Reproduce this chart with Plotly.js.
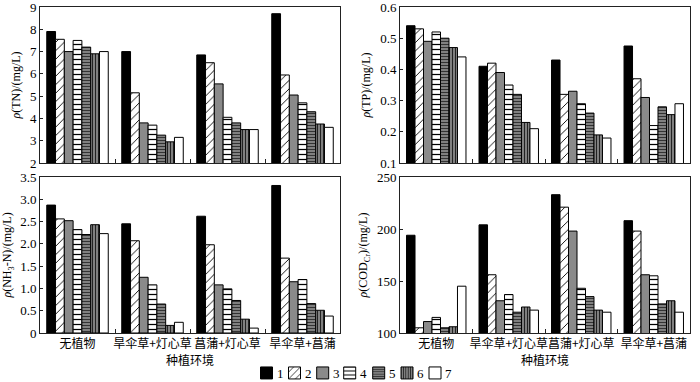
<!DOCTYPE html>
<html>
<head>
<meta charset="utf-8">
<script src="https://cdn.plot.ly/plotly-3.0.1.min.js"></script>
<style>html,body{margin:0;padding:0;background:#fff;}#chart{width:700px;height:382px;}</style>
</head>
<body>
<div id="chart"></div>
<script>
// ---- data ----
var categories = ["无植物", "旱伞草+灯心草", "菖蒲+灯心草", "旱伞草+菖蒲"];
var seriesNames = ["1", "2", "3", "4", "5", "6", "7"];

// TN (mg/L): one array per series, values per category
var tn1 = [7.9, 7.0, 6.85, 8.7];
var tn2 = [7.55, 5.15, 6.5, 5.95];
var tn3 = [7.0, 3.8, 5.55, 5.05];
var tn4 = [7.5, 3.7, 4.05, 4.7];
var tn5 = [7.2, 3.25, 3.8, 4.3];
var tn6 = [6.9, 2.95, 3.5, 3.75];
var tn7 = [7.0, 3.15, 3.5, 3.6];

// TP (mg/L)
var tp1 = [0.54, 0.41, 0.43, 0.475];
var tp2 = [0.53, 0.42, 0.32, 0.37];
var tp3 = [0.49, 0.39, 0.33, 0.31];
var tp4 = [0.52, 0.35, 0.29, 0.22];
var tp5 = [0.50, 0.32, 0.26, 0.28];
var tp6 = [0.47, 0.23, 0.19, 0.255];
var tp7 = [0.44, 0.21, 0.18, 0.29];

// NH3-N (mg/L)
var nh1 = [2.87, 2.45, 2.62, 3.31];
var nh2 = [2.56, 2.07, 1.98, 1.68];
var nh3 = [2.52, 1.25, 1.08, 1.15];
var nh4 = [2.32, 1.08, 0.99, 1.20];
var nh5 = [2.21, 0.65, 0.73, 0.66];
var nh6 = [2.43, 0.17, 0.31, 0.51];
var nh7 = [2.23, 0.24, 0.11, 0.38];

// COD_Cr (mg/L)
var cod1 = [194, 204, 233, 208];
var cod2 = [105, 156, 221, 198];
var cod3 = [111, 131, 198, 156];
var cod4 = [115, 137, 143, 155];
var cod5 = [105, 120, 135, 128];
var cod6 = [106, 125, 122, 131];
var cod7 = [145, 122, 120, 120];

// axis tick labels
var tnTicks = [2, 3, 4, 5, 6, 7, 8, 9];
var tpTicks = [0.1, 0.2, 0.3, 0.4, 0.5, 0.6];
var tpTickText = ["0.1", "0.2", "0.3", "0.4", "0.5", "0.6"];
var nhTicks = [0, 0.5, 1.0, 1.5, 2.0, 2.5, 3.0, 3.5];
var nhTickText = ["0", "0.5", "1.0", "1.5", "2.0", "2.5", "3.0", "3.5"];
var codTicks = [100, 150, 200, 250];

// ---- styles ----
var styles = [
  {color: "#000000", pattern: {shape: ""}},
  {color: "#ffffff", pattern: {shape: "/", fgcolor: "#000000", bgcolor: "#ffffff", size: 6, solidity: 0.15}},
  {color: "#8a8a8a", pattern: {shape: ""}},
  {color: "#ffffff", pattern: {shape: "-", fgcolor: "#000000", bgcolor: "#ffffff", size: 5, solidity: 0.25}},
  {color: "#808080", pattern: {shape: "-", fgcolor: "#333333", bgcolor: "#808080", size: 3, solidity: 0.35}},
  {color: "#808080", pattern: {shape: "|", fgcolor: "#222222", bgcolor: "#808080", size: 3, solidity: 0.35}},
  {color: "#ffffff", pattern: {shape: ""}}
];

var panels = [
  {data: [tn1, tn2, tn3, tn4, tn5, tn6, tn7], xa: "x", ya: "y"},
  {data: [tp1, tp2, tp3, tp4, tp5, tp6, tp7], xa: "x2", ya: "y2"},
  {data: [nh1, nh2, nh3, nh4, nh5, nh6, nh7], xa: "x3", ya: "y3"},
  {data: [cod1, cod2, cod3, cod4, cod5, cod6, cod7], xa: "x4", ya: "y4"}
];

var legendIds = ["legend", "legend2", "legend3", "legend4", "legend5", "legend6", "legend7"];

var traces = [];
panels.forEach(function (p, pi) {
  p.data.forEach(function (vals, si) {
    traces.push({
      type: "bar",
      x: categories,
      y: vals,
      name: "",
      legend: legendIds[si],
      legendgroup: "s" + si,
      showlegend: pi === 0,
      xaxis: p.xa,
      yaxis: p.ya,
      marker: {
        color: styles[si].color,
        pattern: styles[si].pattern,
        line: {color: "#000000", width: 1}
      },
      hoverinfo: "none"
    });
  });
});

var fontSerif = "Liberation Serif, Times New Roman, Noto Sans CJK SC, serif";
var fontCJK = "Noto Sans CJK SC, Liberation Serif, serif";

function xAxis(domain, anchor, showLabels) {
  var a = {
    domain: domain, anchor: anchor, type: "category",
    showline: true, mirror: true, linecolor: "#222", linewidth: 1,
    ticks: "inside", ticklen: 4, tickcolor: "#222", tickson: "boundaries",
    showgrid: false, zeroline: false,
    showticklabels: showLabels, tickangle: 0,
    tickfont: {family: fontCJK, size: 12, color: "#000"}
  };
  if (showLabels) a.title = {text: "种植环境", font: {family: fontCJK, size: 12, color: "#000"}, standoff: 5};
  return a;
}
function yAxis(domain, anchor, range, tickvals, ticktext, title) {
  return {
    domain: domain, anchor: anchor, range: range,
    tickvals: tickvals, ticktext: ticktext,
    showline: true, mirror: true, linecolor: "#222", linewidth: 1,
    ticks: "inside", ticklen: 3, tickcolor: "#222",
    showgrid: false, zeroline: false, ticklabeloverflow: "allow",
    tickfont: {family: fontSerif, size: 13, color: "#000"},
    title: {text: title, font: {family: fontSerif, size: 12, color: "#000"}, standoff: 6}
  };
}

var dxL = [40 / 700, 340 / 700];
var dxR = [400 / 700, 690 / 700];
var dyT = [(382 - 163) / 382, (382 - 7) / 382];
var dyB = [(382 - 333) / 382, (382 - 177) / 382];

var layout = {
  width: 700, height: 382,
  margin: {l: 0, r: 0, t: 0, b: 0, autoexpand: false},
  paper_bgcolor: "#fff", plot_bgcolor: "#fff",
  barmode: "group", bargap: 0.18, bargroupgap: 0,
  font: {family: fontSerif, color: "#000"},
  xaxis: xAxis(dxL, "y", false),
  yaxis: yAxis(dyT, "x", [2, 9], tnTicks, tnTicks.map(String), "<i>ρ</i>(TN)/(mg/L)"),
  xaxis2: xAxis(dxR, "y2", false),
  yaxis2: yAxis(dyT, "x2", [0.1, 0.6], tpTicks, tpTickText, "<i>ρ</i>(TP)/(mg/L)"),
  xaxis3: xAxis(dxL, "y3", true),
  yaxis3: yAxis(dyB, "x3", [0, 3.5], nhTicks, nhTickText, "<i>ρ</i>(NH<sub>3</sub>-N)/(mg/L)"),
  xaxis4: xAxis(dxR, "y4", true),
  yaxis4: yAxis(dyB, "x4", [100, 250], codTicks, codTicks.map(String), "<i>ρ</i>(COD<sub>Cr</sub>)/(mg/L)"),
  showlegend: true,
  annotations: []
};

// legend swatch centres (px) and labels
var swatchX = [266.5, 294.5, 322.7, 349.7, 378.7, 407, 435];
var legendY = 373;
swatchX.forEach(function (cx, i) {
  layout[legendIds[i]] = {
    x: (cx - 20) / 700, xanchor: "left",
    y: (382 - legendY) / 382, yanchor: "middle",
    itemwidth: 30, bgcolor: "rgba(0,0,0,0)", borderwidth: 0,
    font: {family: fontSerif, size: 13, color: "#000"}
  };
  layout.annotations.push({
    text: seriesNames[i], xref: "paper", yref: "paper",
    x: (cx + 8) / 700, xanchor: "left", y: (382 - legendY) / 382, yanchor: "middle",
    showarrow: false, font: {family: fontSerif, size: 13, color: "#000"}
  });
});

Plotly.newPlot("chart", traces, layout, {staticPlot: true, displayModeBar: false});
</script>
</body>
</html>
